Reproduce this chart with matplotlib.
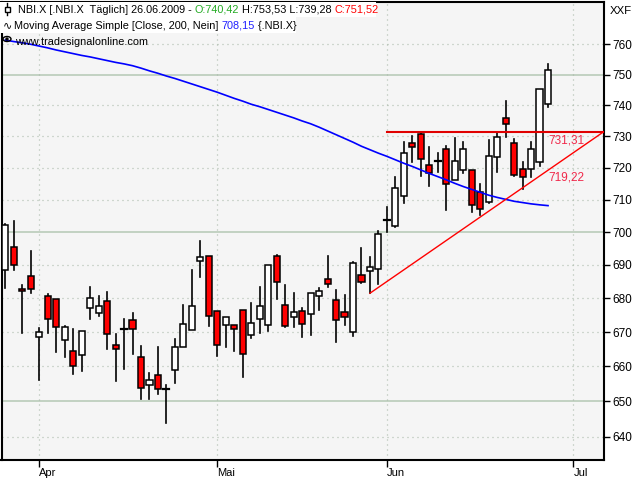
import matplotlib
matplotlib.use('Agg')
import matplotlib.pyplot as plt
import numpy as np
from matplotlib.patches import Rectangle, Ellipse
from matplotlib.lines import Line2D
from matplotlib.ticker import FixedLocator, NullLocator, FixedFormatter

# ---- data (NBI.X daily, 26.03.2009 - 26.06.2009) ----
opens = [688.4, 695.3, 682.8, 686.6, 668.5, 680.6, 679.7, 667.6, 664.4, 663.2,
         677.0, 675.5, 679.2, 666.1, 670.8, 673.5, 662.7, 654.6, 657.5, 653.6,
         658.9, 665.5, 670.5, 691.1, 692.6, 676.1, 672.0, 672.0, 676.4, 669.0,
         673.8, 672.0, 692.6, 677.9, 674.3, 676.1, 675.2, 680.6, 685.7, 679.4,
         675.8, 669.9, 686.9, 688.1, 688.7, 703.6, 702.0, 711.1, 727.8, 730.8,
         720.8, 722.0, 725.9, 716.1, 719.2, 719.2, 712.3, 709.2, 723.3, 735.8,
         727.8, 719.5, 719.5, 721.7, 740.42]
highs = [702.5, 703.4, 684.0, 694.2, 671.2, 681.3, 679.8, 671.8, 670.9, 670.3,
         683.4, 680.7, 681.9, 669.4, 673.9, 675.6, 665.9, 658.1, 665.7, 654.7,
         668.0, 678.0, 688.5, 697.3, 692.7, 676.2, 674.5, 672.1, 676.5, 678.6,
         683.4, 690.0, 693.1, 684.0, 681.6, 677.0, 681.6, 683.1, 692.7, 682.5,
         681.0, 690.8, 695.1, 692.3, 700.3, 707.8, 717.2, 728.0, 730.1, 731.31,
         726.5, 724.6, 726.8, 729.3, 728.1, 719.3, 714.8, 728.7, 731.1, 741.3,
         729.0, 721.7, 728.2, 745.3, 753.53]
lows = [683.2, 688.5, 669.8, 681.7, 656.1, 669.8, 664.3, 662.8, 657.9, 658.8,
        673.9, 674.8, 665.0, 655.9, 659.3, 663.7, 650.7, 650.7, 652.0, 643.8,
        655.3, 665.5, 670.5, 686.5, 671.9, 662.9, 665.7, 664.6, 657.0, 668.4,
        669.8, 670.4, 679.9, 671.6, 671.6, 668.6, 669.2, 676.4, 683.3, 667.2,
        672.2, 668.9, 684.5, 681.5, 684.2, 700.1, 701.7, 709.1, 721.9, 717.5,
        714.4, 718.7, 706.7, 716.0, 718.4, 706.1, 705.1, 709.1, 718.6, 729.9,
        717.5, 713.3, 717.0, 720.6, 739.28]
closes = [702.2, 689.9, 682.1, 682.7, 669.9, 673.8, 671.4, 671.4, 660.0, 670.2,
          680.0, 677.6, 669.3, 665.0, 671.0, 670.8, 653.7, 656.2, 653.4, 653.5,
          665.6, 672.3, 677.6, 692.3, 674.7, 666.1, 674.4, 671.0, 663.5, 672.6,
          677.6, 689.9, 685.0, 671.9, 675.8, 672.3, 681.5, 682.1, 684.2, 673.5,
          674.4, 690.5, 684.8, 689.3, 699.3, 703.7, 713.6, 724.6, 726.5, 722.7,
          718.3, 722.1, 714.8, 722.1, 726.0, 708.3, 707.0, 723.8, 729.9, 733.9,
          717.6, 717.0, 725.9, 745.2, 751.52]
ma200 = [761.4, 760.9, 760.5, 760.0, 759.4, 758.8, 758.1, 757.5, 756.9, 756.3,
         755.8, 755.2, 754.6, 754.0, 753.5, 752.9, 752.1, 751.2, 750.4, 749.5,
         748.7, 747.8, 746.9, 746.0, 745.1, 744.2, 743.2, 742.2, 741.3, 740.3,
         739.5, 738.6, 737.7, 736.8, 735.9, 734.9, 734.0, 732.9, 731.7, 730.5,
         729.3, 728.1, 726.8, 725.7, 724.6, 723.6, 722.5, 721.4, 720.4, 719.3,
         718.2, 717.2, 716.2, 715.1, 714.1, 713.2, 712.3, 711.4, 710.7, 710.1,
         709.5, 709.1, 708.7, 708.4, 708.15]
month_ticks = [4, 25, 45, 67]          # first trading day of Apr, May, Jun, Jul
month_labels = ['Apr', 'Mai', 'Jun', 'Jul']
y_ticks = [640, 650, 660, 670, 680, 690, 700, 710, 720, 730, 740, 750, 760]
y_major = [650, 700, 750]
resist_level = 731.31
resist_start = 45
trend_start_idx, trend_start_val = 43, 681.5
trend_end_idx, trend_end_val = 64, 719.22

W, Hh = 640, 480
FONT = 'Liberation Sans'
plt.rcParams['font.family'] = [FONT, 'DejaVu Sans']

fig = plt.figure(figsize=(6.4, 4.8), dpi=100, facecolor='white')
ax = fig.add_axes([1.5 / W, 20 / Hh, 602.5 / W, 458.3 / Hh])
ax.set_facecolor('#f5f5f5')
ax.set_yscale('log')
ax.set_xlim(-0.45, 70.6)
ax.set_ylim(633.5, 774.3)

# grid
for v in y_ticks:
    if v in y_major:
        ax.axhline(v, color='#b4c8b4', lw=1.1, zorder=1)
    else:
        ax.axhline(v, color='#a8b8a8', lw=0.9, ls=(0, (0.8, 3.2)), zorder=1)
for m in month_ticks:
    ax.axvline(m, color='#a8b8a8', lw=0.9, ls=(0, (0.8, 3.2)), zorder=1)

# candles
n = len(opens)
xs = np.arange(n)
bw = 0.72
for i in range(n):
    o, h, l, c = opens[i], highs[i], lows[i], closes[i]
    lo_b, hi_b = min(o, c), max(o, c)
    ax.add_line(Line2D([i, i], [l, lo_b], color='black', lw=1.2, zorder=3))
    ax.add_line(Line2D([i, i], [hi_b, h], color='black', lw=1.2, zorder=3))
    fc = 'white' if c >= o else '#ff0000'
    if hi_b - lo_b < 0.6:
        ax.add_line(Line2D([i - bw / 2, i + bw / 2], [c, c], color='black', lw=1.6, zorder=4))
    else:
        ax.add_patch(Rectangle((i - bw / 2, lo_b), bw, hi_b - lo_b, facecolor=fc,
                               edgecolor='black', lw=1.1, zorder=4))

# moving average
ax.plot(xs, ma200, color='#0000ff', lw=1.2, zorder=5)

# resistance line
ax.plot([resist_start, 70.6], [resist_level, resist_level], color='#e00000', lw=1.5, zorder=5)
# trend line (straight on log axis)
slope = (np.log(trend_end_val) - np.log(trend_start_val)) / (trend_end_idx - trend_start_idx)
tx = np.array([trend_start_idx, 70.6])
ty = np.exp(np.log(trend_start_val) + slope * (tx - trend_start_idx))
ax.plot(tx, ty, color='#ff0000', lw=1.0, zorder=5)

lab_col = '#f0284a'
ax.annotate('731,31', xy=(trend_end_idx, resist_level), xytext=(0, -1.5),
            textcoords='offset points', ha='left', va='top', color=lab_col,
            fontsize=8.5, zorder=6)
ax.annotate('719,22', xy=(trend_end_idx, trend_end_val), xytext=(0, -1.0),
            textcoords='offset points', ha='left', va='top', color=lab_col,
            fontsize=8.5, zorder=6)

# axes styling
for s in ax.spines.values():
    s.set_linewidth(1.5)
    s.set_color('black')
ax.yaxis.tick_right()
ax.yaxis.set_major_locator(FixedLocator(y_ticks))
ax.yaxis.set_major_formatter(FixedFormatter([str(v) for v in y_ticks]))
ax.yaxis.set_minor_locator(NullLocator())
ax.tick_params(axis='y', which='major', direction='out', length=4, width=1,
               pad=2, labelsize=8.5, colors='black')
ax.set_xticks(month_ticks)
ax.set_xticklabels(month_labels)
ax.tick_params(axis='x', direction='out', length=5, width=1, pad=1, labelsize=8)
for t in ax.get_xticklabels():
    t.set_horizontalalignment('left')

# header texts
renderer = fig.canvas.get_renderer()

def seq(x, y, parts, fs=7.8):
    for s, col in parts:
        t = fig.text(x / W, 1 - y / Hh, s, color=col, fontsize=fs, ha='left',
                     va='baseline', zorder=10)
        x += t.get_window_extent(renderer).width
    return x

# white boxes behind first two lines
fig.patches.append(Rectangle((0, 1 - 16.5 / Hh), 376 / W, 14 / Hh,
                             transform=fig.transFigure, facecolor='white',
                             edgecolor='none', zorder=9))
fig.patches.append(Rectangle((0, 1 - 33 / Hh), 296 / W, 16.5 / Hh,
                             transform=fig.transFigure, facecolor='white',
                             edgecolor='none', zorder=9))

seq(18, 12.8, [('NBI.X [.NBI.X  Täglich] 26.06.2009 - ', 'black'),
               ('O:740,42', '#22aa22'),
               (' H:753,53 L:739,28 ', 'black'),
               ('C:751,52', '#ff0000')])
seq(14, 29, [('Moving Average Simple [Close, 200, Nein] ', 'black'),
             ('708,15', '#2020ff'),
             (' {.NBI.X}', 'black')])
fig.text(15 / W, 1 - 45 / Hh, 'www.tradesignalonline.com', color='black',
         fontsize=7.8, ha='left', va='baseline', zorder=10)
fig.text(610 / W, 1 - 13.5 / Hh, 'XXF', color='black', fontsize=8.2,
         ha='left', va='baseline', zorder=10)

# small icons
fig.lines.append(Line2D([7 / W, 7 / W], [1 - 3 / Hh, 1 - 15 / Hh],
                        transform=fig.transFigure, color='black', lw=1, zorder=11))
fig.patches.append(Rectangle((4.5 / W, 1 - 11.5 / Hh), 5 / W, 5 / Hh,
                             transform=fig.transFigure, facecolor='white',
                             edgecolor='black', lw=1, zorder=12))
fig.text(3 / W, 1 - 28.5 / Hh, '∿', family='DejaVu Sans', fontsize=8,
         color='black', ha='left', va='baseline', zorder=11)
fig.patches.append(Ellipse((7 / W, 1 - 39 / Hh), 8 / W, 5 / Hh,
                           transform=fig.transFigure, facecolor='none',
                           edgecolor='black', lw=1, zorder=11))
fig.patches.append(Ellipse((7 / W, 1 - 39 / Hh), 2.5 / W, 2.5 / Hh,
                           transform=fig.transFigure, facecolor='black',
                           edgecolor='black', lw=0.5, zorder=11))

fig.savefig('out.png', dpi=100, facecolor='white')
